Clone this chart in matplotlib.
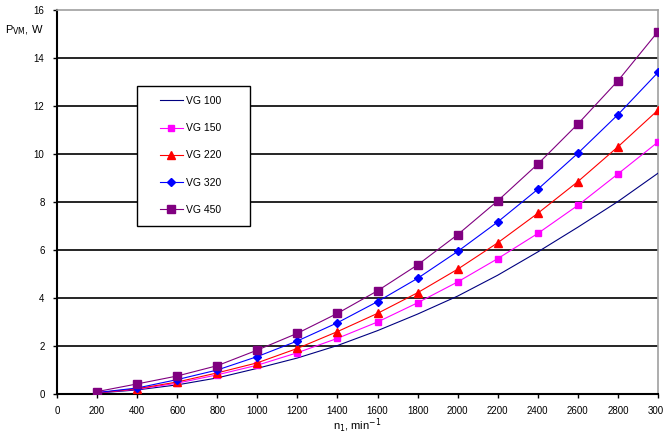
import matplotlib
matplotlib.use("Agg")
import matplotlib.pyplot as plt
from matplotlib.patches import Rectangle

plt.rcParams['font.family'] = ['Liberation Sans', 'DejaVu Sans']

# speed n1, min^-1
n1 = [200, 400, 600, 800, 1000, 1200, 1400, 1600, 1800, 2000, 2200, 2400, 2600, 2800, 3000]

# power loss, W
vg100 = [0.04, 0.17, 0.38, 0.67, 1.07, 1.50, 2.02, 2.64, 3.33, 4.08, 4.95, 5.92, 6.95, 8.02, 9.20]
vg150 = [0.05, 0.20, 0.45, 0.80, 1.20, 1.72, 2.32, 3.00, 3.80, 4.67, 5.64, 6.69, 7.86, 9.17, 10.50]
vg220 = [0.05, 0.22, 0.50, 0.88, 1.30, 1.90, 2.60, 3.36, 4.22, 5.20, 6.30, 7.53, 8.85, 10.30, 11.83]
vg320 = [0.06, 0.25, 0.60, 1.00, 1.56, 2.21, 2.97, 3.85, 4.82, 5.94, 7.17, 8.53, 10.03, 11.64, 13.40]
vg450 = [0.10, 0.42, 0.75, 1.18, 1.83, 2.53, 3.36, 4.30, 5.38, 6.64, 8.05, 9.58, 11.25, 13.05, 15.10]

labels = ['VG 100', 'VG 150', 'VG 220', 'VG 320', 'VG 450']
xticks = list(range(0, 3001, 200))
yticks = list(range(0, 17, 2))

W, H = 663, 437
fig = plt.figure(figsize=(W / 100, H / 100), dpi=100)
ax = fig.add_axes([57 / W, 1 - 394 / H, (658 - 57) / W, (394 - 10) / H])

ax.plot(n1, vg100, color='#000080', lw=0.8, label=labels[0], zorder=3)
ax.plot(n1, vg150, color='#ff00ff', lw=0.8, marker='s', ms=4, label=labels[1], zorder=3)
ax.plot(n1, vg220, color='#ff0000', lw=0.8, marker='^', ms=6, label=labels[2], zorder=3)
ax.plot(n1, vg320, color='#0000ff', lw=0.8, marker='D', ms=4.5, label=labels[3], zorder=3)
ax.plot(n1, vg450, color='#800080', lw=0.8, marker='s', ms=6, label=labels[4], zorder=3)

ax.set_xlim(0, 3000)
ax.set_ylim(0, 16)
ax.set_xticks(xticks)
ax.set_yticks(yticks)
ax.tick_params(axis='both', direction='out', length=3, width=1, labelsize=7, pad=6)

for y in yticks[1:-1]:
    ax.axhline(y, color='black', lw=1.2, zorder=1)

ax.spines['left'].set_linewidth(1.5)
ax.spines['bottom'].set_linewidth(1.5)
ax.spines['top'].set_color('#a0a0a0')
ax.spines['right'].set_color('#a0a0a0')
ax.spines['top'].set_linewidth(1.2)
ax.spines['right'].set_linewidth(1.2)

fig.text(5 / W, 1 - 30 / H, r'P$_{\rm VM}$, W', fontsize=8, va='center', ha='left')
fig.text(333 / W, 1 - 426 / H, r'n$_1$, min$^{-1}$', fontsize=8, va='center', ha='left')

# legend box
box = Rectangle((137 / W, 1 - 226 / H), (250 - 137) / W, (226 - 86) / H,
                transform=fig.transFigure, facecolor='white', edgecolor='black',
                lw=1.0, zorder=4)
ax.add_patch(box)
box.set_clip_on(False)

leg = ax.legend(loc='upper left', bbox_to_anchor=(160 / W, 1 - 96 / H),
                bbox_transform=fig.transFigure, frameon=False, fontsize=7.5,
                borderpad=0, borderaxespad=0, handlelength=2.2, handletextpad=0.3,
                labelspacing=1.65)
leg.set_zorder(5)

fig.savefig('out.png', dpi=100)
